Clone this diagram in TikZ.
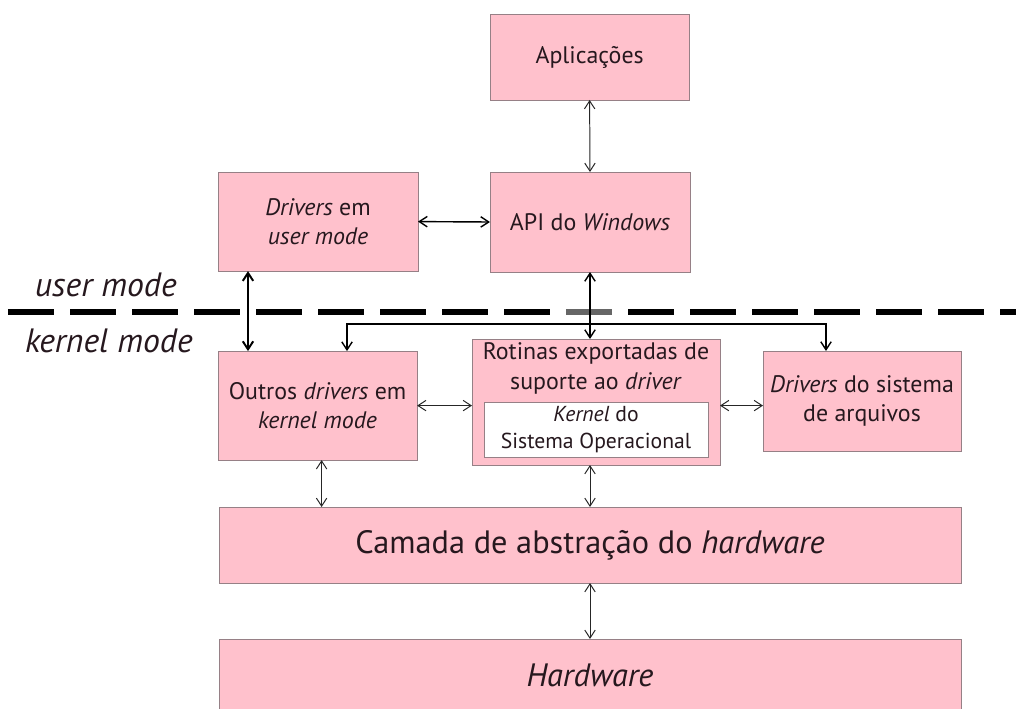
\documentclass[tikz,border=0pt]{standalone}
\usepackage{fontspec}
\setmainfont{PT Sans}
\usetikzlibrary{arrows.meta,positioning}
\definecolor{boxpink}{RGB}{255,193,204}
\definecolor{boxline}{RGB}{150,128,134}
\definecolor{ink}{RGB}{38,24,30}
\begin{document}
\begin{tikzpicture}[inner sep=0pt,outer sep=0pt,>={Straight Barb[length=2mm,width=2.6mm]},
sysbox/.style={draw=boxline,fill=boxpink,rectangle,line width=0.6pt,align=center,text=ink,font=\fontsize{17}{21}\selectfont},
bigbox/.style={sysbox,minimum width=18.55cm,font=\fontsize{23}{27}\selectfont},
link/.style={<->,line width=0.7pt,black!85},
modetext/.style={anchor=west,text=ink,font=\fontsize{24}{28}\selectfont\itshape}]
\useasboundingbox (0,0) rectangle (25.4,-17.725);

% divisao user / kernel
\coordinate (divL) at (0.2,-7.79);
\coordinate (divR) at (25.4,-7.79);
\coordinate (grayL) at (14.15,-7.79);
\coordinate (grayR) at (15.3,-7.79);
\draw[line width=4.25pt,dash pattern=on 1.15cm off 0.4cm] (divL) -- (divR);
\draw[line width=4.25pt,black!60] (grayL) -- (grayR);
\draw (0.875,-7.125) node[modetext] (umode) {user mode};
\draw (0.625,-8.525) node[modetext] (kmode) {kernel mode};

\draw (14.74,-1.425) node[sysbox,minimum width=4.975cm,minimum height=2.15cm] (apl) {Aplicações};
\draw (7.95,-5.54) node[sysbox,minimum width=5cm,minimum height=2.475cm] (drvu) {\textit{Drivers} em\\\textit{user mode}};
\draw (14.75,-5.55) node[sysbox,minimum width=5cm,minimum height=2.5cm] (api) {API do \textit{Windows}};
\draw (7.94,-10.14) node[sysbox,minimum width=4.975cm,minimum height=2.725cm] (outros) {Outros \textit{drivers} em\\\textit{kernel mode}};
\draw (14.9,-10.05) node[sysbox,minimum width=6.2cm,minimum height=3.15cm] (rot) {};
\node[below=0.1cm of rot.north,align=center,text=ink,font=\fontsize{17}{21}\selectfont] (rottxt) {Rotinas exportadas de\\suporte ao \textit{driver}};
\draw (14.9,-10.74) node[sysbox,fill=white,minimum width=5.6cm,minimum height=1.375cm,font=\fontsize{15.4}{19.5}\selectfont] (kern) {\textit{Kernel} do\\Sistema Operacional};
\draw (21.55,-10.025) node[sysbox,minimum width=4.95cm,minimum height=2.5cm] (fs) {\textit{Drivers} do sistema\\de arquivos};
\draw (14.75,-13.625) node[bigbox,minimum height=1.9cm] (hal) {Camada de abstração do \textit{hardware}};
\draw (14.75,-16.875) node[bigbox,minimum height=1.8cm] (hw) {\textit{Hardware}};

\coordinate (busL) at (8.675,-8.1);
\coordinate (busR) at (20.65,-8.1);

\draw[link] (apl.south) -- (api.north);
\draw[link,line width=1pt,black] (drvu.east) -- (api.west);
\draw[link,line width=1.4pt,black] ([xshift=-1.75cm]drvu.south) -- ([xshift=-1.75cm]drvu.south |- outros.north);
\draw[link,line width=1pt,black] (api.south) -- (api.south |- rot.north);
\draw[link,line width=1pt,black] (busL |- outros.north) -- (busL) -- (busR) -- (busR |- fs.north);
\draw[link] (outros.east) -- (outros.east -| rot.west);
\draw[link] (outros.east -| rot.east) -- (outros.east -| fs.west);
\draw[link] ([xshift=0.1cm]outros.south) -- ([xshift=0.1cm]outros.south |- hal.north);
\draw[link] (api.south |- rot.south) -- (api.south |- hal.north);
\draw[link] (hal.south) -- (hw.north);
\end{tikzpicture}
\end{document}
